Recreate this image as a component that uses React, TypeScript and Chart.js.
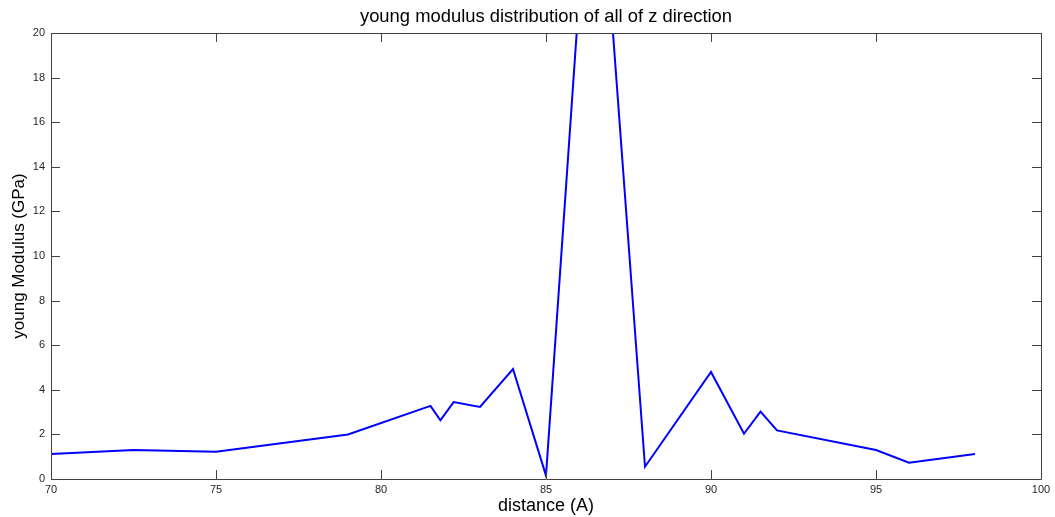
import React, { useEffect, useRef } from "react";
import { Chart, registerables } from "chart.js";

Chart.register(...registerables);

const distance = [70, 72.5, 75, 79, 81.5, 81.8, 82.2, 83, 84, 85, 86, 87, 88, 90, 91, 91.5, 92, 95, 96, 98];
const modulus = [1.12, 1.3, 1.22, 2.0, 3.28, 2.63, 3.45, 3.23, 4.93, 0.15, 21.5, 20.6, 0.55, 4.8, 2.03, 3.02, 2.18, 1.3, 0.73, 1.12];

const xTickMin = 70;
const xTickMax = 100;
const xTickStep = 5;
const yTickMin = 0;
const yTickMax = 20;
const yTickStep = 2;

const FONT = "'Liberation Sans', Arial, Helvetica, sans-serif";
const AXIS_COLOR = "#404040";
const TICK_LEN = 9;

const framePlugin = {
  id: "matlabFrame",
  afterLayout(chart: any) {
    const tb = chart.titleBlock;
    if (tb) {
      tb.left = chart.chartArea.left;
      tb.right = chart.chartArea.right;
    }
  },
  afterDatasetsDraw(chart: any) {
    const { ctx, chartArea, scales } = chart;
    const { left, right, top, bottom } = chartArea;
    ctx.save();
    ctx.strokeStyle = AXIS_COLOR;
    ctx.lineWidth = 1;
    ctx.beginPath();
    ctx.rect(Math.round(left) + 0.5, Math.round(top) + 0.5, Math.round(right - left), Math.round(bottom - top));
    ctx.stroke();
    ctx.beginPath();
    const xs = scales.x;
    for (const t of xs.ticks) {
      const px = Math.round(xs.getPixelForValue(t.value)) + 0.5;
      ctx.moveTo(px, bottom);
      ctx.lineTo(px, bottom - TICK_LEN);
      ctx.moveTo(px, top);
      ctx.lineTo(px, top + TICK_LEN);
    }
    const ys = scales.y;
    for (const t of ys.ticks) {
      const py = Math.round(ys.getPixelForValue(t.value)) + 0.5;
      ctx.moveTo(left, py);
      ctx.lineTo(left + TICK_LEN, py);
      ctx.moveTo(right, py);
      ctx.lineTo(right - TICK_LEN, py);
    }
    ctx.stroke();
    ctx.restore();
  },
};

export default function App() {
  const canvasRef = useRef<HTMLCanvasElement | null>(null);

  useEffect(() => {
    if (!canvasRef.current) return;
    const points = distance.map((d, i) => ({ x: d, y: modulus[i] }));
    const chart = new Chart(canvasRef.current, {
      type: "line",
      data: {
        datasets: [
          {
            data: points,
            borderColor: "#0000ff",
            borderWidth: 2,
            pointRadius: 0,
            tension: 0,
            fill: false,
          },
        ],
      },
      options: {
        responsive: false,
        animation: false,
        devicePixelRatio: 1,
        layout: { padding: { left: 0, right: 14, top: 0, bottom: 0 } },
        plugins: {
          legend: { display: false },
          tooltip: { enabled: false },
          title: {
            display: true,
            text: "young modulus distribution of all of z direction",
            color: "#000",
            font: { family: FONT, size: 18.4, weight: "normal", lineHeight: 1.2 },
            padding: { top: 6, bottom: 4.9 },
          },
        },
        scales: {
          x: {
            type: "linear",
            min: xTickMin,
            max: xTickMax,
            grid: { display: false, drawTicks: false },
            border: { display: false },
            ticks: {
              stepSize: xTickStep,
              color: "#262626",
              font: { family: FONT, size: 11 },
              padding: 4,
              maxRotation: 0,
              autoSkip: false,
            },
            title: {
              display: true,
              text: "distance (A)",
              color: "#000",
              font: { family: FONT, size: 18 },
              padding: { top: 0, bottom: 0 },
            },
            afterFit(scale: any) {
              scale.height = 38;
              scale.paddingLeft = 0;
              scale.paddingRight = 0;
            },
          },
          y: {
            type: "linear",
            min: yTickMin,
            max: yTickMax,
            grid: { display: false, drawTicks: false },
            border: { display: false },
            ticks: {
              stepSize: yTickStep,
              color: "#262626",
              font: { family: FONT, size: 11 },
              padding: 6,
            },
            title: {
              display: true,
              text: "young Modulus (GPa)",
              color: "#000",
              font: { family: FONT, size: 17 },
              padding: { top: 9.5, bottom: 0 },
            },
            afterFit(scale: any) {
              scale.width = 51;
              scale.paddingTop = 0;
              scale.paddingBottom = 0;
            },
          },
        },
      },
      plugins: [framePlugin],
    });
    return () => chart.destroy();
  }, []);

  return (
    <div style={{ position: "absolute", left: 0, top: 0, width: 1055, height: 517, background: "#fff" }}>
      <canvas ref={canvasRef} width={1055} height={517} />
    </div>
  );
}
